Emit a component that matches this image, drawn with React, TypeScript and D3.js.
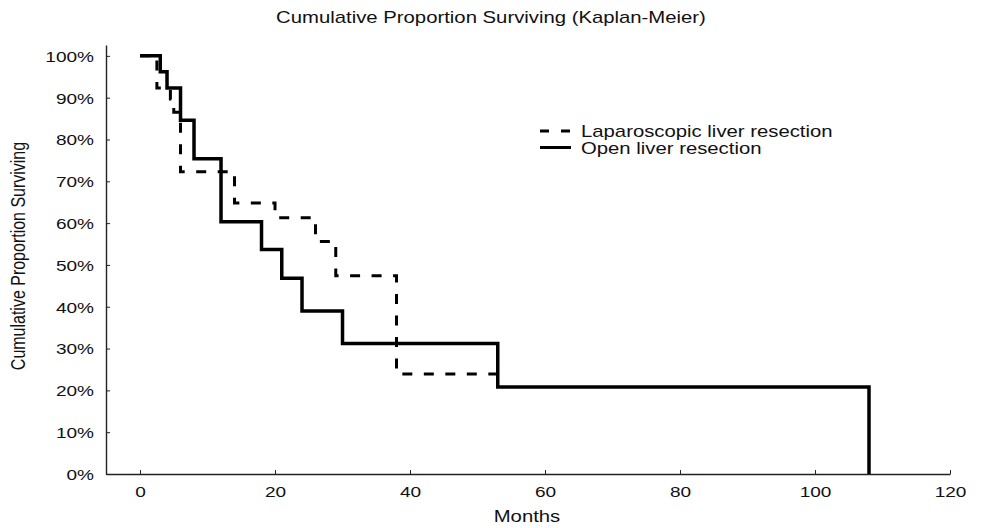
import { useEffect, useRef } from "react";
import * as d3 from "d3";

// survival estimates (months, proportion surviving)
const openMonths = [0, 3, 4, 6, 8, 12, 18, 21, 24, 30, 53, 108];
const openSurvival = [1, 0.962, 0.923, 0.846, 0.754, 0.603, 0.537, 0.468, 0.39, 0.312, 0.208, 0];

const lapMonths = [0, 2.5, 4.5, 5, 6, 14, 20, 26, 29, 38, 54];
const lapSurvival = [1, 0.923, 0.897, 0.865, 0.723, 0.648, 0.613, 0.556, 0.474, 0.239, 0.239];

const xTicks = [0, 20, 40, 60, 80, 100, 120];
const yTicks = [0, 0.1, 0.2, 0.3, 0.4, 0.5, 0.6, 0.7, 0.8, 0.9, 1];

const seriesNames = ["Laparoscopic liver resection", "Open liver resection"];

const WIDTH = 982;
const HEIGHT = 528;
const STRETCH = 1.27; // the original text is drawn wide
const FONT = "Arial, 'Liberation Sans', sans-serif";
const DASH = "10,11.5";

function App() {
  const svgRef = useRef(null);

  useEffect(() => {
    const svg = d3.select(svgRef.current);
    svg.selectAll("*").remove();

    const x = d3.scaleLinear().domain([-5.04, 120]).range([106, 950]);
    const y = d3.scaleLinear().domain([0, 1.026]).range([474, 45]);

    const wideText = (tx, ty, text, size, anchor = "start") =>
      svg
        .append("g")
        .attr("transform", `translate(${tx},${ty}) scale(${STRETCH},1)`)
        .append("text")
        .attr("text-anchor", anchor)
        .attr("font-family", FONT)
        .attr("font-size", size)
        .attr("fill", "#111")
        .text(text);

    // title
    wideText(WIDTH / 2, 23, "Cumulative Proportion Surviving (Kaplan-Meier)", 16, "middle");

    // x axis
    const xAxis = svg
      .append("g")
      .attr("transform", `translate(0,${y(0)})`)
      .call(d3.axisBottom(x).tickValues(xTicks).tickSizeInner(-4).tickSizeOuter(0));
    xAxis.select(".domain").attr("stroke", "#222").attr("stroke-width", 1.4);
    xAxis.selectAll(".tick line").attr("stroke", "#222");
    xAxis
      .selectAll(".tick text")
      .attr("y", 23)
      .attr("dy", 0)
      .attr("transform", `scale(${STRETCH},1)`)
      .attr("font-family", FONT)
      .attr("font-size", 15)
      .attr("fill", "#111");

    // y axis
    const yAxis = svg
      .append("g")
      .attr("transform", `translate(${x.range()[0]},0)`)
      .call(
        d3
          .axisLeft(y)
          .tickValues(yTicks)
          .tickFormat(d3.format(".0%"))
          .tickSizeInner(-4)
          .tickSizeOuter(0)
      );
    yAxis.select(".domain").attr("stroke", "#222").attr("stroke-width", 1.4);
    yAxis.selectAll(".tick line").attr("stroke", "#222");
    yAxis
      .selectAll(".tick text")
      .attr("x", -12 / STRETCH)
      .attr("dy", "0.36em")
      .attr("transform", `scale(${STRETCH},1)`)
      .attr("font-family", FONT)
      .attr("font-size", 15)
      .attr("fill", "#111");

    // axis titles
    wideText(527, 522, "Months", 16, "middle");
    svg
      .append("g")
      .attr("transform", `translate(25,256) scale(${STRETCH},1) rotate(-90)`)
      .append("text")
      .attr("text-anchor", "middle")
      .attr("font-family", FONT)
      .attr("font-size", 16)
      .attr("fill", "#111")
      .text("Cumulative Proportion Surviving");

    const line = d3
      .line()
      .x((d) => x(d[0]))
      .y((d) => y(d[1]))
      .curve(d3.curveStepAfter);

    const lapData = lapMonths.map((m, i) => [m, lapSurvival[i]]);
    const openData = openMonths.map((m, i) => [m, openSurvival[i]]);

    svg
      .append("path")
      .attr("d", line(lapData))
      .attr("fill", "none")
      .attr("stroke", "#000")
      .attr("stroke-width", 3)
      .attr("stroke-dasharray", DASH);

    svg
      .append("path")
      .attr("d", line(openData))
      .attr("fill", "none")
      .attr("stroke", "#000")
      .attr("stroke-width", 3.5);

    // legend
    const legend = svg.append("g");
    [DASH, null].forEach((dash, i) => {
      const ly = 131 + i * 16.5;
      legend
        .append("line")
        .attr("x1", 540)
        .attr("x2", 571)
        .attr("y1", ly)
        .attr("y2", ly)
        .attr("stroke", "#000")
        .attr("stroke-width", 3)
        .attr("stroke-dasharray", dash ? "9,12" : null);
      wideText(581, ly + 6, seriesNames[i], 16);
    });
  }, []);

  return (
    <>
      <style>{"body{margin:0;background:#fff}"}</style>
      <svg ref={svgRef} width={WIDTH} height={HEIGHT} style={{ display: "block" }} />
    </>
  );
}

export default App;
